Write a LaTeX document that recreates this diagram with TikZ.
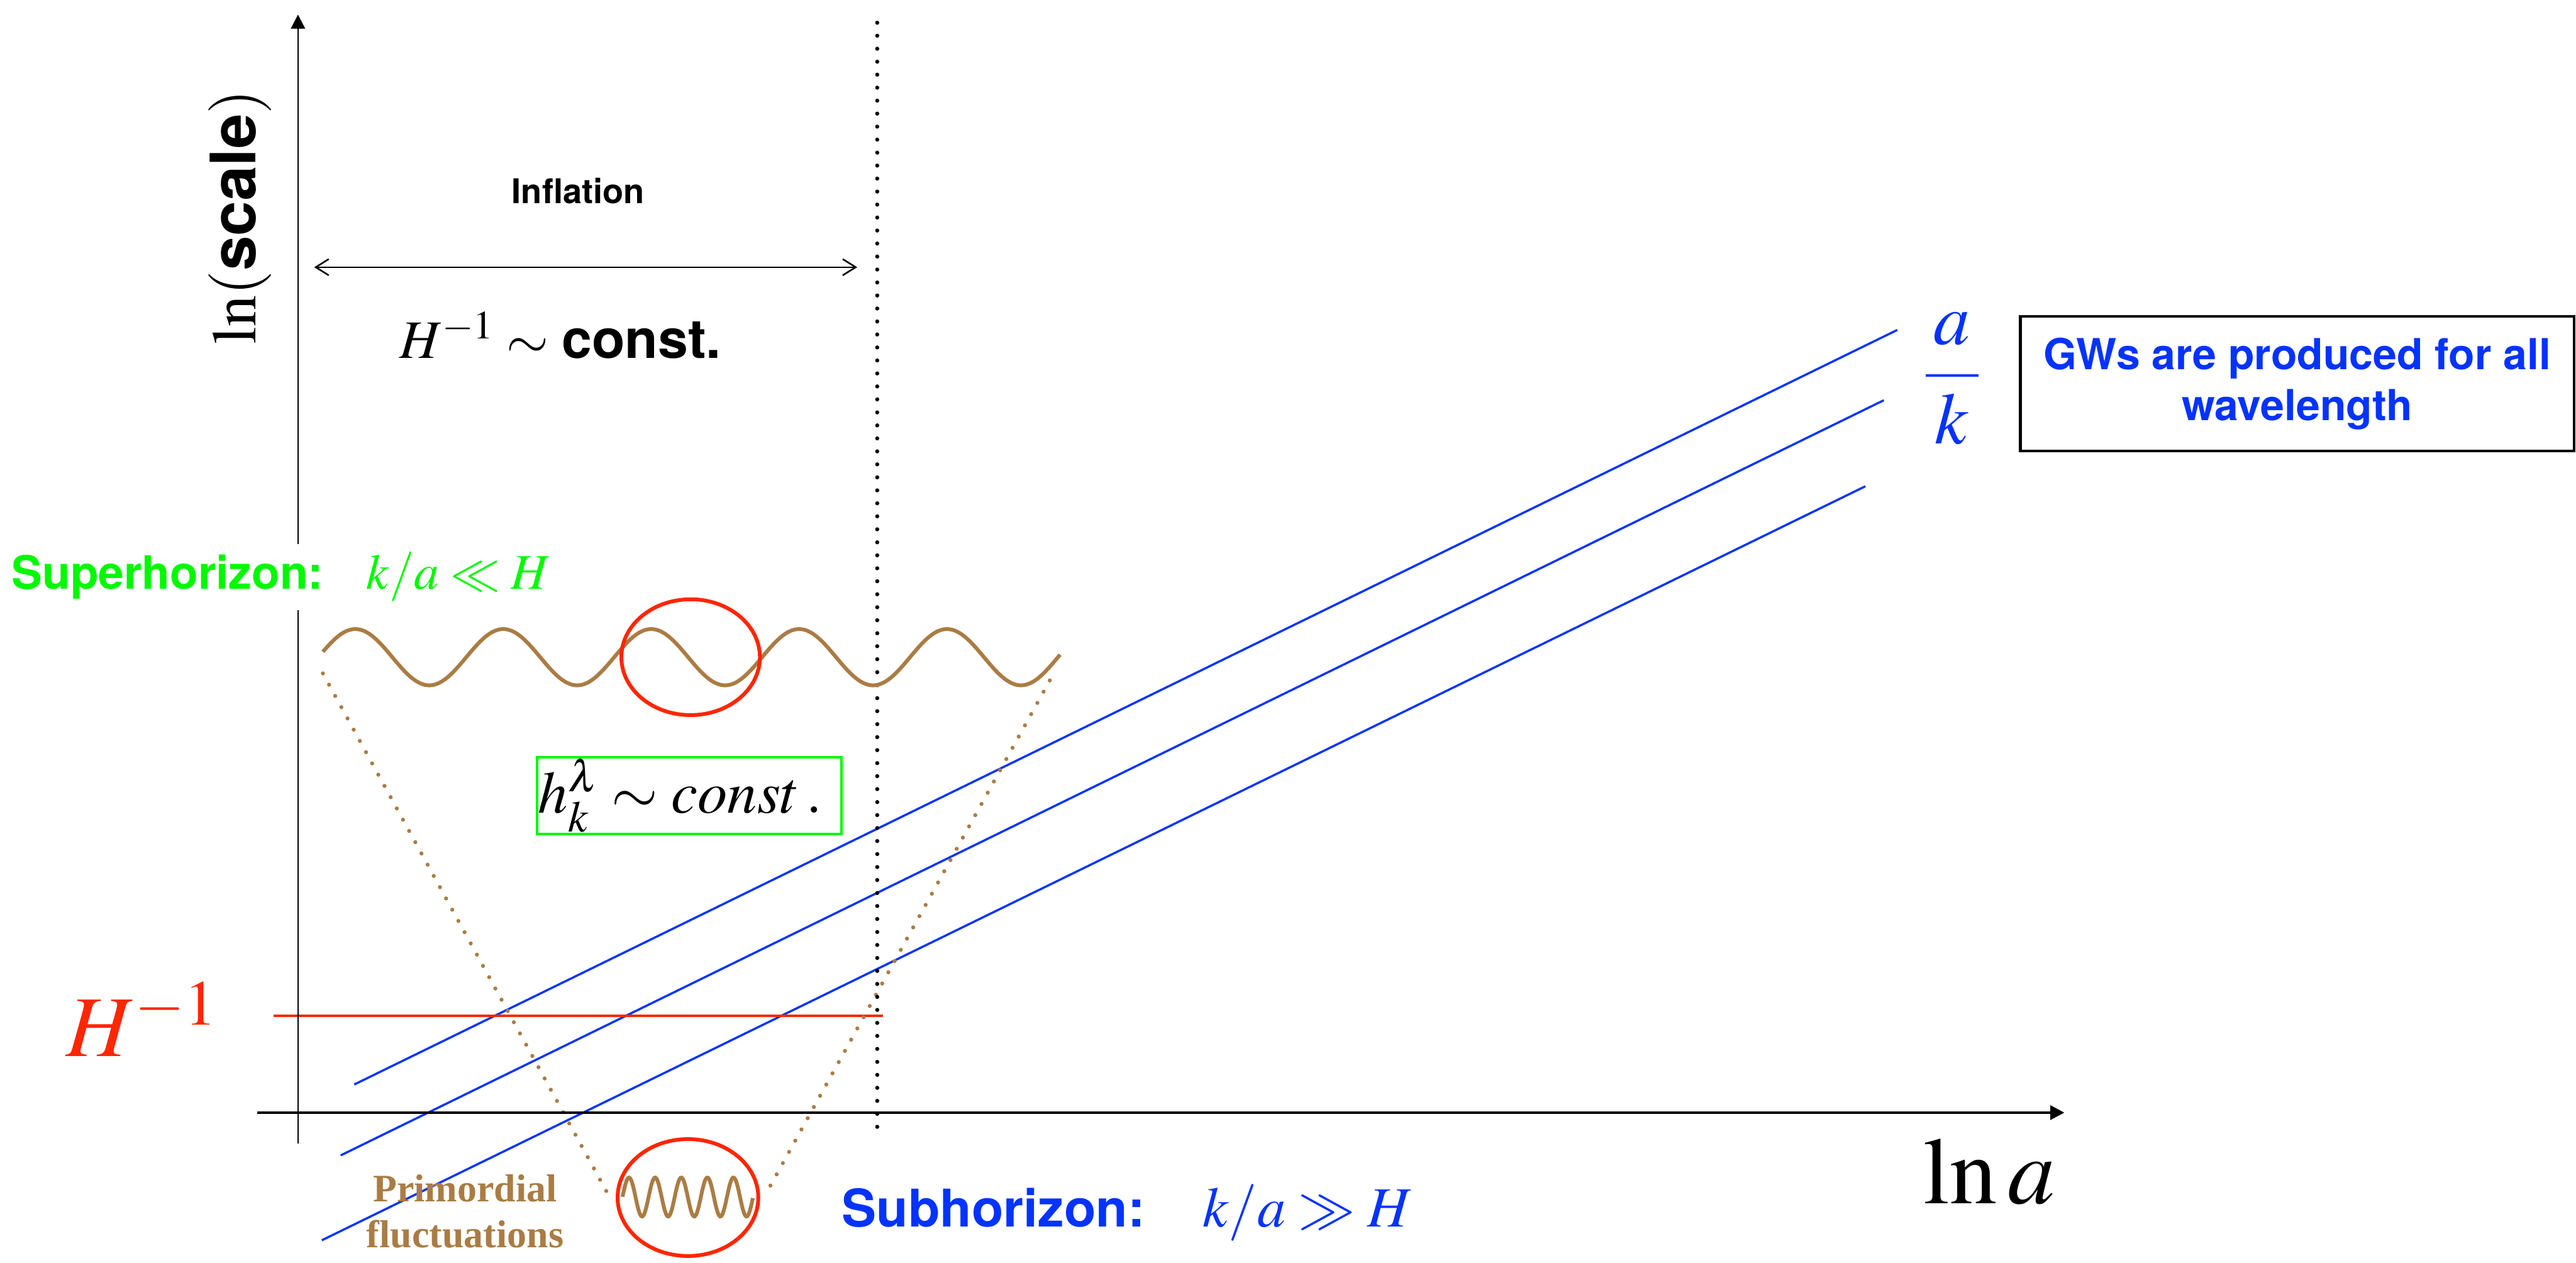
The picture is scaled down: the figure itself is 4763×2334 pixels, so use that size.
\documentclass[tikz,border=0pt]{standalone}
\usepackage{mathptmx}
\usepackage[no-math]{fontspec}
\setmainfont{Liberation Serif}
\setsansfont{TeX Gyre Heros}
\usetikzlibrary{arrows.meta,shapes.geometric}
\definecolor{kblue}{RGB}{4,51,255}
\definecolor{kred}{RGB}{255,38,0}
\definecolor{kgreen}{RGB}{0,249,0}
\definecolor{kbrown}{RGB}{170,124,68}
\newcommand{\pxfont}[1]{\fontsize{\fpeval{#1*0.2845}pt}{\fpeval{#1*0.2845*1.2}pt}\selectfont}
\begin{document}
\begin{tikzpicture}[x=0.01cm,y=-0.01cm,
  every node/.style={inner sep=0pt},
  axisline/.style={line width=0.03cm},
  bluelin/.style={kblue,line width=0.04cm},
  dotblack/.style={black,line width=0.075cm,line cap=round,dash pattern=on 0pt off 0.24cm},
  dotbrown/.style={kbrown,line width=0.075cm,line cap=round,dash pattern=on 0pt off 0.237cm},
  wavelin/.style={kbrown,line width=0.07cm},
  ring/.style={ellipse,draw=kred,line width=0.07cm,inner sep=0pt},
  sanslab/.style={font=\sffamily\bfseries\pxfont{#1}},
]
\useasboundingbox (0,0) rectangle (4763,2334);

% coordinates
\coordinate (ytop) at (551,27);
\coordinate (ybot) at (551,2114);
\coordinate (xl) at (476,2057);
\coordinate (xr) at (3817,2057);
\coordinate (dtop) at (1622,42);
\coordinate (dbot) at (1622,2087);
\coordinate (al) at (581,494);
\coordinate (ar) at (1585,494);
\coordinate (hl) at (506,1878);
\coordinate (hr) at (1633,1878);
\coordinate (b1s) at (655,2005);
\coordinate (b1e) at (3508,610);
\coordinate (b2s) at (630,2136);
\coordinate (b2e) at (3483,740);
\coordinate (b3s) at (595,2293);
\coordinate (b3e) at (3449,899);
\coordinate (vl1) at (597,1245);
\coordinate (vl2) at (1132,2222);
\coordinate (vr1) at (1941,1258);
\coordinate (vr2) at (1420,2200);

% blue lines a/k
\draw[bluelin] (b1s) -- (b1e);
\draw[bluelin] (b2s) -- (b2e);
\draw[bluelin] (b3s) -- (b3e);

% H^-1 line
\draw[kred,line width=0.045cm] (hl) -- (hr);

% brown dotted cone
\draw[dotbrown] (vl1) -- (vl2);
\draw[dotbrown] (vr1) -- (vr2);

% vertical dotted line
\draw[dotblack] (dtop) -- (dbot);

% axes
\draw[axisline,-{Triangle[length=0.26cm,width=0.26cm]}] (ybot) -- (ytop);
\draw[line width=0.05cm,-{Triangle[length=0.26cm,width=0.26cm]}] (xl) -- (xr);

% inflation arrow
\draw[axisline,{Straight Barb[length=0.24cm,width=0.3cm]}-{Straight Barb[length=0.24cm,width=0.3cm]}] (al) -- (ar);

% waves
\draw[wavelin] plot[domain=597:1960,samples=240,smooth] (\x,{1215-52*cos((\x-657)/273.5*360)});
\draw[wavelin] plot[domain=1151:1392,samples=120,smooth] (\x,{2213-36*cos((\x-1163)/48.3*360)});

% red rings
\node[ring,minimum width=2.56cm,minimum height=2.14cm] (ring1) at (1277,1215) {};
\node[ring,minimum width=2.6cm,minimum height=2.16cm] (ring2) at (1272,2214) {};

% texts
\node[sanslab=63] (infl) at (1069,353) {Inflation};
\node[anchor=base,font=\pxfont{100}] (hconst) at (1036,662) {$H^{-1}\sim$ \textsf{\bfseries const.}};
\node[rotate=90,font=\pxfont{116}] (lnscale) at (444,401) {$\ln($\textsf{\bfseries scale}$)$};

\node[anchor=base west,fill=white,inner sep=0.2cm,text=kgreen,sanslab=85] (sup) at (1,1089) {Superhorizon:};
\node[anchor=base west,text=kgreen,font=\pxfont{92}] (supm) at (677,1089) {$k/a \ll H$};

\node[draw=kgreen,line width=0.05cm,minimum width=5.63cm,minimum height=1.42cm,text width=5.6cm,align=left,font=\pxfont{110}] (hbox) at (1274.5,1471) {\hspace{0.01cm}$h_k^\lambda \sim const\,.$};

\node[anchor=base west,text=kred,font=\pxfont{160}] (hlab) at (122,1953) {$H^{-1}$};

\node[text=kblue,font=\pxfont{135}] (ak) at (3609,700) {$\displaystyle\frac{\,a\,}{\,k\,}$};

\node[draw=black,line width=0.05cm,minimum width=10.23cm,minimum height=2.49cm,align=center,text=kblue,sanslab=79] (gw) at (4247.5,709.5) {GWs are produced for all\\wavelength};

\node[anchor=base west,font=\pxfont{175}] (lna) at (3556,2225) {$\ln a$};

\node[anchor=base west,text=kblue,sanslab=96] (sub) at (1556,2268) {Subhorizon:};
\node[anchor=base west,text=kblue,font=\pxfont{105}] (subm) at (2223,2268) {$k/a \gg H$};

\node[anchor=base,text=kbrown,font=\bfseries\pxfont{72}] (prim1) at (860,2222) {Primordial};
\node[anchor=base,text=kbrown,font=\bfseries\pxfont{72}] (prim2) at (860,2307) {fluctuations};
\end{tikzpicture}
\end{document}
